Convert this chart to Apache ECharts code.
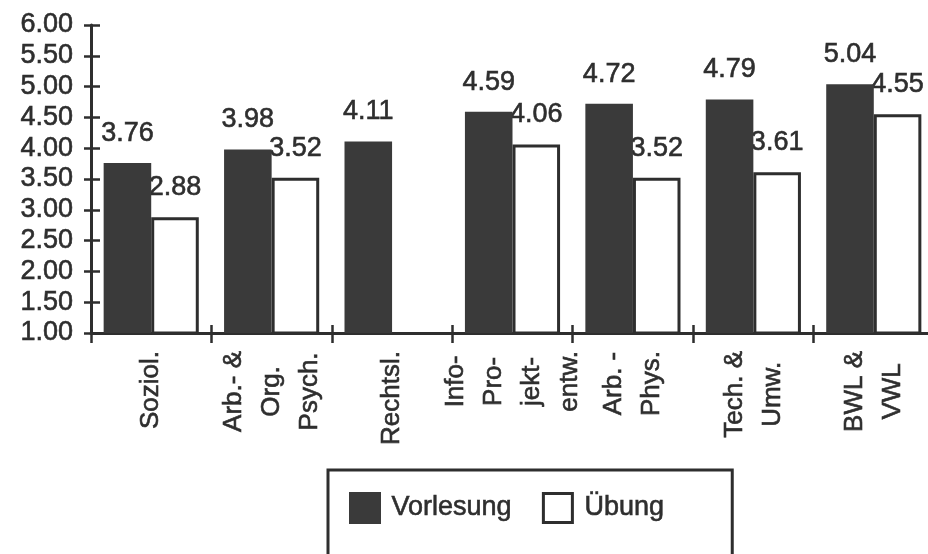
<!DOCTYPE html>
<html>
<head>
<meta charset="utf-8">
<script src="https://cdn.jsdelivr.net/npm/echarts@6/dist/echarts.min.js"></script>
<style>
  html, body { margin: 0; padding: 0; background: #fff; }
  #chart { width: 928px; height: 554px; }
</style>
</head>
<body>
<div id="chart"></div>
<script>
// Course subjects (multi-line names, read bottom to top)
const categories = [
  'Soziol.',
  'Arb.- &\nOrg.\nPsych.',
  'Rechtsl.',
  'Info-\nPro-\njekt-\nentw.',
  'Arb. -\nPhys.',
  'Tech. &\nUmw.',
  'BWL &\nVWL'
];
// Mean ratings per subject
const vorlesung = [3.76, 3.98, 4.11, 4.59, 4.72, 4.79, 5.04];
const uebung = [2.88, 3.52, null, 4.06, 3.52, 3.61, 4.55];
// Value axis range and step
const yMin = 1.0;
const yMax = 6.0;
const yStep = 0.5;

const INK = '#2e2e2e';
const DARK = '#3a3a3a';
const FONT = '"Liberation Sans", Arial, Helvetica, sans-serif';
// slight outline in the text colour gives the heavier print look
const HEAVY = { textBorderColor: INK, textBorderWidth: 0.6 };

const chart = echarts.init(document.getElementById('chart'), null, { renderer: 'canvas' });

const valueLabel = Object.assign({
  show: true,
  position: 'top',
  distance: 16,
  fontFamily: FONT,
  fontSize: 27,
  color: INK,
  formatter: p => (p.value == null ? '' : Number(p.value).toFixed(2))
}, HEAVY);

chart.setOption({
  backgroundColor: '#ffffff',
  animation: false,
  grid: { left: 91, width: 843, top: 25, height: 308, containLabel: false, outerBoundsMode: 'none' },
  xAxis: [
    {
      type: 'category',
      data: categories,
      position: 'bottom',
      axisLine: { show: true, lineStyle: { color: INK, width: 3 } },
      axisTick: { show: true, alignWithLabel: false, length: 10, lineStyle: { color: INK, width: 2.5 } },
      axisLabel: {
        interval: 0,
        rotate: 90,
        margin: 18,
        color: INK,
        fontFamily: FONT,
        fontSize: 26,
        formatter: v => v.split('\n').map(l => '{c|' + l + '}').join('\n'),
        rich: {
          c: Object.assign({ fontFamily: FONT, fontSize: 26, lineHeight: 38, align: 'center', color: INK }, HEAVY)
        }
      },
      splitLine: { show: false }
    },
    {
      // inner half of the crossing ticks
      type: 'category',
      data: categories,
      position: 'bottom',
      axisLine: { show: false },
      axisTick: { show: true, inside: true, length: 8, lineStyle: { color: INK, width: 2.5 } },
      axisLabel: { show: false },
      splitLine: { show: false }
    }
  ],
  yAxis: [
    {
      type: 'value',
      min: yMin,
      max: yMax,
      interval: yStep,
      axisLine: { show: true, lineStyle: { color: INK, width: 3 } },
      axisTick: { show: true, length: 7, lineStyle: { color: INK, width: 2.5 } },
      axisLabel: Object.assign({
        margin: 18,
        color: INK,
        fontFamily: FONT,
        fontSize: 27,
        formatter: v => v.toFixed(2)
      }, HEAVY),
      splitLine: { show: false }
    },
    {
      type: 'value',
      position: 'left',
      min: yMin,
      max: yMax,
      interval: yStep,
      axisLine: { show: false },
      axisTick: { show: true, inside: true, length: 9, lineStyle: { color: INK, width: 2.5 } },
      axisLabel: { show: false },
      splitLine: { show: false }
    }
  ],
  legend: {
    left: 328,
    top: 470,
    orient: 'horizontal',
    itemWidth: 29,
    itemHeight: 29,
    itemGap: 30,
    padding: [22, 68, 60, 21],
    borderColor: INK,
    borderWidth: 3,
    backgroundColor: '#ffffff',
    itemStyle: { borderWidth: 3 },
    textStyle: Object.assign({ fontFamily: FONT, fontSize: 27, color: INK, padding: [0, 0, 0, 7] }, HEAVY),
    data: [
      { name: 'Vorlesung', icon: 'rect' },
      { name: 'Übung', icon: 'rect' }
    ]
  },
  series: [
    {
      name: 'Vorlesung',
      type: 'bar',
      z: 3,
      data: vorlesung,
      barGap: '0%',
      barCategoryGap: '21%',
      itemStyle: { color: DARK, borderColor: DARK, borderWidth: 0 },
      label: valueLabel
    },
    {
      name: 'Übung',
      type: 'bar',
      z: 2,
      data: uebung,
      barGap: '0%',
      barCategoryGap: '21%',
      itemStyle: { color: '#ffffff', borderColor: INK, borderWidth: 3 },
      label: valueLabel
    }
  ]
});
</script>
</body>
</html>
